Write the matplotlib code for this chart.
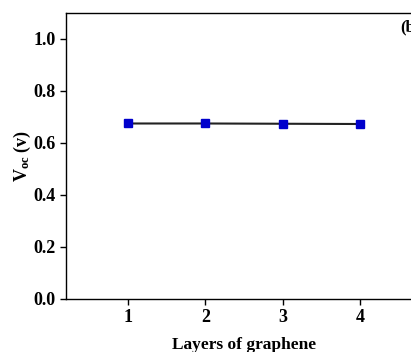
import matplotlib
matplotlib.use("Agg")
import matplotlib.pyplot as plt

# data
layers = [1, 2, 3, 4]
voc = [0.675, 0.675, 0.674, 0.673]

plt.rcParams['font.family'] = ['Liberation Serif', 'DejaVu Serif']
plt.rcParams['font.weight'] = 'bold'
plt.rcParams['mathtext.fontset'] = 'custom'
plt.rcParams['mathtext.rm'] = 'Liberation Serif:bold'
plt.rcParams['mathtext.it'] = 'Liberation Serif:bold'
plt.rcParams['mathtext.bf'] = 'Liberation Serif:bold'

fig = plt.figure(figsize=(4.11, 3.52), dpi=100)
# the right edge of the axes is cut off in the reference
ax = fig.add_axes([0.1606, 0.1506, 0.866, 0.8125])

ax.plot(layers, voc, color='#222222', lw=1.5, marker='s', ms=5.5,
        markerfacecolor='#0000cc', markeredgecolor='#0000cc', zorder=3)

ax.set_xlim(0.2, 4.8)
ax.set_ylim(0, 1.1)
ax.set_xticks(layers)
ax.set_yticks([0.0, 0.2, 0.4, 0.6, 0.8, 1.0])
ax.set_yticklabels(['0.0', '0.2', '0.4', '0.6', '0.8', '1.0'])
ax.tick_params(axis='both', labelsize=13, length=4, width=1, direction='out')
ax.tick_params(axis='x', pad=3)

for s in ax.spines.values():
    s.set_linewidth(1.0)

ax.set_xlabel('Layers of graphene', fontsize=12.5, fontweight='bold', labelpad=8)
ax.set_ylabel(r'V$_{\mathrm{oc}}$ (v)', fontsize=13, fontweight='bold', labelpad=0)

# panel tag, cut off at the right edge just like in the reference
ax.text(0.938, 0.948, '(b)', transform=ax.transAxes, fontsize=12,
        fontweight='bold', ha='left', va='center')

fig.savefig('out.png', dpi=100)
